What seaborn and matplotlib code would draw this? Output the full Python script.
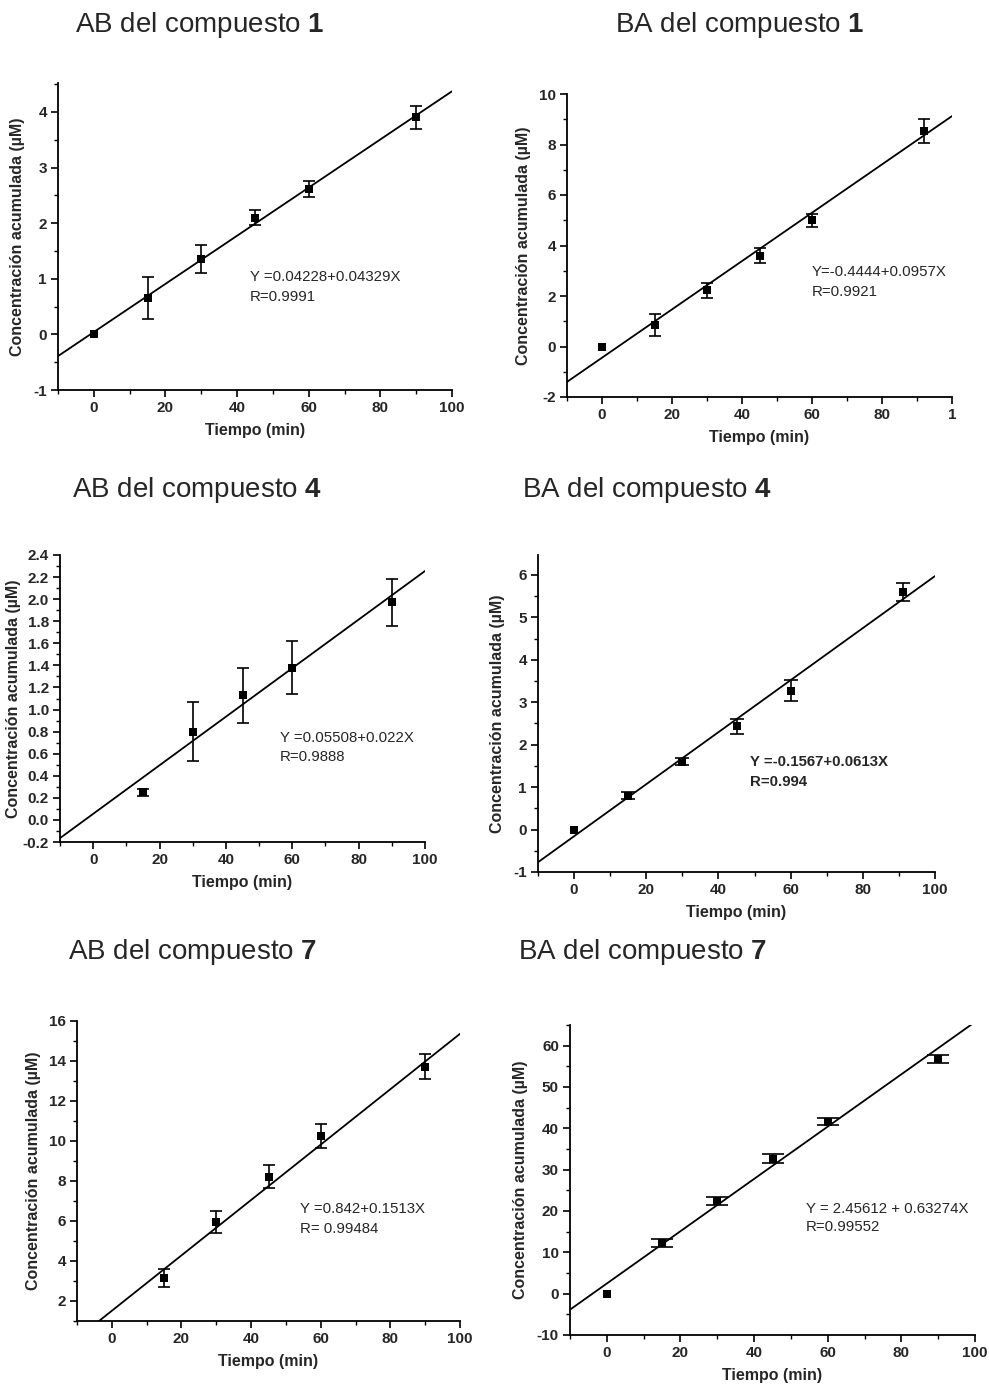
import numpy as np
import pandas as pd
import matplotlib
matplotlib.use("Agg")
import matplotlib.pyplot as plt
import seaborn as sns
from matplotlib.ticker import MultipleLocator, FormatStrFormatter

#---------Data---------------------------------
t_ab1 = [0, 15, 30, 45, 60, 90]
c_ab1 = [0.0, 0.66, 1.36, 2.10, 2.61, 3.90]
e_ab1 = [0.0, 0.38, 0.25, 0.13, 0.14, 0.20]
fit_ab1 = [0.04228, 0.04329]
eq_ab1 = ["Y =0.04228+0.04329X", "R=0.9991"]

t_ba1 = [0, 15, 30, 45, 60, 92]
c_ba1 = [0.0, 0.85, 2.22, 3.60, 5.00, 8.52]
e_ba1 = [0.0, 0.42, 0.28, 0.30, 0.25, 0.48]
fit_ba1 = [-0.4444, 0.0957]
eq_ba1 = ["Y=-0.4444+0.0957X", "R=0.9921"]

t_ab4 = [15, 30, 45, 60, 90]
c_ab4 = [0.25, 0.80, 1.13, 1.38, 1.97]
e_ab4 = [0.03, 0.27, 0.25, 0.24, 0.21]
fit_ab4 = [0.05508, 0.022]
eq_ab4 = ["Y =0.05508+0.022X", "R=0.9888"]

t_ba4 = [0, 15, 30, 45, 60, 91]
c_ba4 = [0.0, 0.80, 1.60, 2.43, 3.27, 5.60]
e_ba4 = [0.0, 0.08, 0.08, 0.17, 0.25, 0.21]
fit_ba4 = [-0.1567, 0.0613]
eq_ba4 = ["Y =-0.1567+0.0613X", "R=0.994"]

t_ab7 = [15, 30, 45, 60, 90]
c_ab7 = [3.15, 5.95, 8.22, 10.25, 13.72]
e_ab7 = [0.43, 0.57, 0.58, 0.58, 0.63]
fit_ab7 = [1.51, 0.1385]   # line as drawn in the figure
eq_ab7 = ["Y =0.842+0.1513X", "R= 0.99484"]

t_ba7 = [0, 15, 30, 45, 60, 90]
c_ba7 = [0.0, 12.3, 22.4, 32.7, 41.6, 56.8]
e_ba7 = [0.0, 0.9, 0.9, 1.0, 0.9, 1.0]
fit_ba7 = [2.45612, 0.63274]
eq_ba7 = ["Y = 2.45612 + 0.63274X", "R=0.99552"]

titles = ["AB del compuesto", "BA del compuesto"]
compounds = ["1", "4", "7"]

#---------Style-----------
sns.set_theme(style="ticks")
plt.rcParams["font.family"] = ["Liberation Sans", "DejaVu Sans"]
plt.rcParams["mathtext.fontset"] = "custom"
plt.rcParams["mathtext.rm"] = "Liberation Sans"
plt.rcParams["mathtext.bf"] = "Liberation Sans:bold"
plt.rcParams["axes.unicode_minus"] = False

W, H = 989, 1389
fig = plt.figure(figsize=(W / 100, H / 100), dpi=100)


def px_axes(left, right, top, bottom):
    return fig.add_axes([left / W, 1 - bottom / H, (right - left) / W, (bottom - top) / H])


panels = [
    dict(t=t_ab1, c=c_ab1, e=e_ab1, fit=fit_ab1, eq=eq_ab1, box=(58, 452, 83, 390),
         ylim=(-1, 4.52), ymaj=1, ymin=0.5, fmt="%d", eqxy=(43.6, 1.03, 0.36), cap=8,
         title=(75, 25, 0, 0)),
    dict(t=t_ba1, c=c_ba1, e=e_ba1, fit=fit_ba1, eq=eq_ba1, box=(567, 952, 94, 397),
         ylim=(-2, 10), ymaj=2, ymin=1, fmt="%d", eqxy=(60, 2.95, 0.8), cap=8,
         title=(615, 25, 1, 0), xlabels=["0", "20", "40", "60", "80", "1"]),
    dict(t=t_ab4, c=c_ab4, e=e_ab4, fit=fit_ab4, eq=eq_ab4, box=(60, 425, 555, 842),
         ylim=(-0.2, 2.4), ymaj=0.2, ymin=0.1, fmt="%.1f", eqxy=(56.3, 0.74, 0.17), cap=8,
         title=(72, 490, 0, 1), ypad=1),
    dict(t=t_ba4, c=c_ba4, e=e_ba4, fit=fit_ba4, eq=eq_ba4, box=(538, 935, 555, 872),
         ylim=(-1, 6.47), ymaj=1, ymin=0.5, fmt="%d", eqxy=(48.7, 1.59, 0.47), cap=10,
         title=(522, 490, 1, 1), eqbold=True),
    dict(t=t_ab7, c=c_ab7, e=e_ab7, fit=fit_ab7, eq=eq_ab7, box=(77, 460, 1021, 1321),
         ylim=(1, 16), ymaj=2, ymin=1, fmt="%d", eqxy=(54, 6.62, 1.0), cap=8,
         title=(68, 952, 0, 2)),
    dict(t=t_ba7, c=c_ba7, e=e_ba7, fit=fit_ba7, eq=eq_ba7, box=(570, 975, 1025, 1335),
         ylim=(-10, 65), ymaj=10, ymin=5, fmt="%d", eqxy=(54.1, 20.5, 4.4), cap=16,
         title=(518, 952, 1, 2)),
]

for p in panels:
    ax = px_axes(*p["box"])
    df = pd.DataFrame({"t": p["t"], "c": p["c"], "e": p["e"]})

    #---------fit line over the full x range-----------
    xl = np.array([-10, 100])
    line = pd.DataFrame({"t": xl, "c": p["fit"][0] + p["fit"][1] * xl})
    sns.lineplot(data=line, x="t", y="c", color="black", linewidth=1.3, ax=ax)

    #---------error bars + points-----------
    eb = df[df["e"] > 0]
    ax.errorbar(eb["t"], eb["c"], yerr=eb["e"], fmt="none", ecolor="black",
                elinewidth=1.2, capsize=p["cap"] / 2, capthick=1.2)
    sns.scatterplot(data=df, x="t", y="c", marker="s", s=40, color="black",
                    edgecolor="black", linewidth=0, ax=ax, zorder=3)

    ax.set_xlim(-10, 100)
    ax.set_ylim(*p["ylim"])
    ax.xaxis.set_major_locator(MultipleLocator(20))
    ax.xaxis.set_minor_locator(MultipleLocator(10))
    ax.yaxis.set_major_locator(MultipleLocator(p["ymaj"]))
    ax.yaxis.set_minor_locator(MultipleLocator(p["ymin"]))
    ax.yaxis.set_major_formatter(FormatStrFormatter(p["fmt"]))
    if "xlabels" in p:
        ax.set_xticks([0, 20, 40, 60, 80, 100])
        ax.set_xticklabels(p["xlabels"])

    sns.despine(ax=ax)
    for s in ["left", "bottom"]:
        ax.spines[s].set_color("black")
        ax.spines[s].set_linewidth(1.3)
    ax.tick_params(which="major", direction="out", length=5, width=1.2, color="black",
                   labelsize=11, pad=3)
    ax.tick_params(which="minor", direction="out", length=3, width=1.0, color="black")
    for lab in ax.get_xticklabels() + ax.get_yticklabels():
        lab.set_fontweight("bold")

    ax.set_xlabel("Tiempo (min)", fontsize=11.5, fontweight="bold", labelpad=6)
    ax.set_ylabel("Concentración acumulada (µM)", fontsize=11.5, fontweight="bold",
                  labelpad=p.get("ypad", 6))

    ex, ey, dy = p["eqxy"]
    w = "bold" if p.get("eqbold") else "normal"
    ax.text(ex, ey, p["eq"][0], fontsize=10.8, va="center", ha="left", fontweight=w)
    ax.text(ex, ey - dy, p["eq"][1], fontsize=10.8, va="center", ha="left", fontweight=w)

    tx, ty, side, k = p["title"]
    fig.text(tx / W, 1 - ty / H, titles[side] + r" $\mathbf{" + compounds[k] + "}$",
             fontsize=20, va="center", ha="left")

fig.savefig("out.png", dpi=100)
